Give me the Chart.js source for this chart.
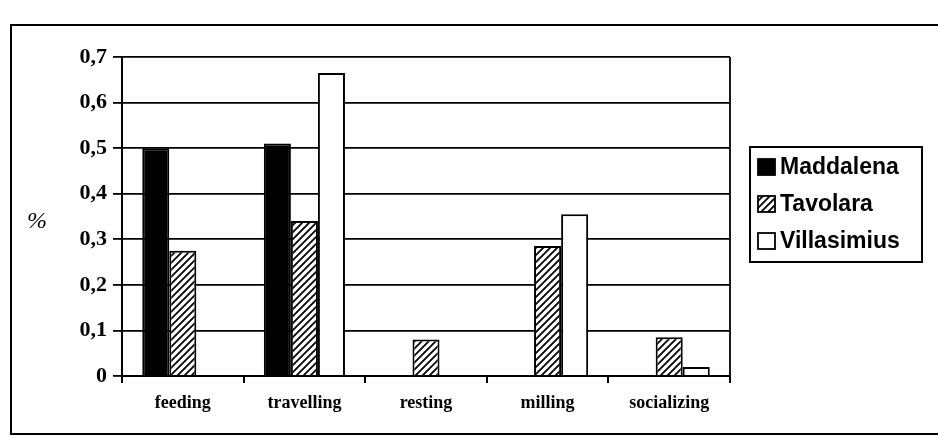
<!DOCTYPE html>
<html>
<head>
<meta charset="utf-8">
<script src="https://cdn.jsdelivr.net/npm/chart.js@4.4.1/dist/chart.umd.min.js"></script>
<style>
  html, body { margin: 0; padding: 0; background: #fff; }
  #wrap { position: relative; width: 938px; height: 437px; overflow: hidden; }
  #frame { position: absolute; left: 10px; top: 24px; width: 960px; height: 407px; border: 2px solid #000; }
  canvas { position: absolute; left: 0; top: 0; }
</style>
</head>
<body>
<div id="wrap">
  <div id="frame"></div>
  <canvas id="barChart" width="938" height="437"></canvas>
</div>
<script>
// data
const categories = ['feeding', 'travelling', 'resting', 'milling', 'socializing'];
const seriesNames = ['Maddalena', 'Tavolara', 'Villasimius'];
const maddalena = [0.50, 0.51, 0, 0, 0];
const tavolara = [0.275, 0.34, 0.08, 0.285, 0.085];
const villasimius = [0, 0.665, 0, 0.355, 0.02];
const yMin = 0;
const yMax = 0.7;
const yStep = 0.1;
const yAxisLabel = '%';

document.addEventListener('DOMContentLoaded', function () {

    // diagonal hatch for Tavolara
    function makeHatch() {
        const c = document.createElement('canvas');
        c.width = 7;
        c.height = 7;
        const g = c.getContext('2d');
        g.fillStyle = '#fff';
        g.fillRect(0, 0, 7, 7);
        g.strokeStyle = '#000';
        g.lineWidth = 1.8;
        g.beginPath();
        g.moveTo(-1, 8); g.lineTo(8, -1);
        g.moveTo(-4.5, 4.5); g.lineTo(4.5, -4.5);
        g.moveTo(2.5, 11.5); g.lineTo(11.5, 2.5);
        g.stroke();
        return g.createPattern(c, 'repeat');
    }

    const hatch = makeHatch();
    const fills = ['#000', hatch, '#fff'];

    // legend box, % label and the plot's right edge
    const extras = {
        id: 'extras',
        afterDraw(chart) {
            const ctx = chart.ctx;
            const area = chart.chartArea;
            ctx.save();

            ctx.strokeStyle = '#000';
            ctx.lineWidth = 1.8;
            ctx.beginPath();
            ctx.moveTo(area.right, area.top);
            ctx.lineTo(area.right, area.bottom);
            ctx.stroke();

            ctx.fillStyle = '#000';
            ctx.font = 'italic 24px "Liberation Serif", serif';
            ctx.textAlign = 'center';
            ctx.textBaseline = 'middle';
            ctx.fillText(yAxisLabel, 37, 222);

            // legend
            ctx.lineWidth = 2;
            ctx.strokeRect(750, 147, 172, 115);
            ctx.font = 'bold 23px "Liberation Sans", Arial, sans-serif';
            ctx.textAlign = 'left';
            chart.data.datasets.forEach(function (ds, i) {
                const y = 167 + i * 37;
                ctx.fillStyle = ds.backgroundColor;
                ctx.fillRect(758, y - 8, 17, 16);
                ctx.lineWidth = 1.8;
                ctx.strokeRect(758, y - 8, 17, 16);
                ctx.fillStyle = '#000';
                ctx.fillText(ds.label, 780, y + 1);
            });
            ctx.restore();
        }
    };

    const ctx = document.getElementById('barChart');

    new Chart(ctx, {
        type: 'bar',
        data: {
            labels: categories,
            datasets: [maddalena, tavolara, villasimius].map(function (vals, i) {
                return {
                    label: seriesNames[i],
                    data: vals,
                    backgroundColor: fills[i],
                    borderColor: '#000',
                    borderWidth: 2,
                    borderSkipped: 'bottom',
                    categoryPercentage: 0.667,
                    barPercentage: 1.0
                };
            })
        },
        options: {
            responsive: false,
            animation: false,
            layout: {
                padding: { top: 57, right: 208, left: 0, bottom: 0 }
            },
            plugins: {
                legend: { display: false },
                tooltip: { enabled: false }
            },
            scales: {
                x: {
                    afterFit: function (s) { s.height = 61; },
                    border: { color: '#000', width: 2 },
                    grid: {
                        display: true,
                        drawOnChartArea: false,
                        drawTicks: true,
                        tickLength: 7,
                        color: '#000',
                        lineWidth: 2,
                        offset: true
                    },
                    ticks: {
                        color: '#000',
                        padding: 10,
                        font: { family: '"Liberation Serif", serif', size: 18, weight: 'bold' }
                    }
                },
                y: {
                    min: yMin,
                    max: yMax,
                    afterFit: function (s) { s.width = 122; },
                    border: { color: '#000', width: 2 },
                    grid: {
                        color: '#000',
                        lineWidth: 1.8,
                        tickLength: 9
                    },
                    ticks: {
                        stepSize: yStep,
                        color: '#000',
                        padding: 6,
                        font: { family: '"Liberation Serif", serif', size: 22, weight: 'bold' },
                        callback: function (v) {
                            return v === 0 ? '0' : v.toFixed(1).replace('.', ',');
                        }
                    }
                }
            }
        },
        plugins: [extras]
    });
});
</script>
</body>
</html>
